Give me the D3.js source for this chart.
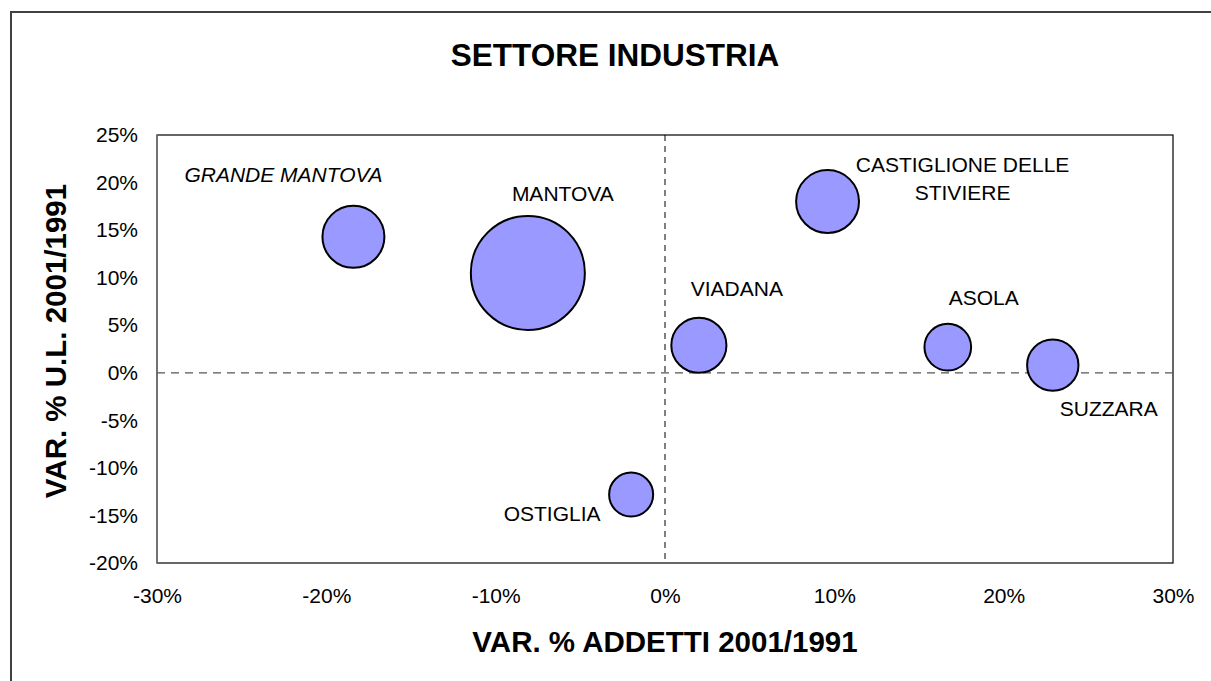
<!DOCTYPE html>
<meta charset="utf-8">
<style>
body { margin: 0; background: #fff; font-family: Arial, "Liberation Sans", Helvetica, sans-serif; }
.axis text { font-size: 21px; fill: #000; font-family: Arial, "Liberation Sans", sans-serif; }
.axis .domain { display: none; }
.bubble { fill: #9999ff; stroke: #000; stroke-width: 2; }
.label { font-size: 21px; fill: #000; text-anchor: middle; }
.zero-h { stroke: #555; stroke-width: 1.3; stroke-dasharray: 8,6; }
.zero-v { stroke: #000; stroke-width: 1; stroke-dasharray: 6,5; }
</style>
<svg width="1211" height="681"></svg>
<script src="https://cdnjs.cloudflare.com/ajax/libs/d3/7.8.5/d3.min.js"></script>
<script>

// data
var towns   = ["GRANDE MANTOVA", "MANTOVA", "VIADANA", "CASTIGLIONE DELLE STIVIERE", "ASOLA", "SUZZARA", "OSTIGLIA"];
var addetti = [-18.4, -8.1, 2.0, 9.6, 16.7, 22.9, -2.0];     // var. % addetti
var unita   = [14.3, 10.5, 2.9, 18.0, 2.7, 0.8, -12.8];      // var. % u.l.
var size    = [960, 3250, 760, 990, 545, 660, 485];           // bubble size
var xTicks  = [-30, -20, -10, 0, 10, 20, 30];
var yTicks  = [-20, -15, -10, -5, 0, 5, 10, 15, 20, 25];

// label placement (px offset from bubble centre) and line breaks
var labelLayout = [
  {dx: -70, dy: -55, lines: ["GRANDE MANTOVA"], italic: true},
  {dx: 35,  dy: -72, lines: ["MANTOVA"]},
  {dx: 38,  dy: -49, lines: ["VIADANA"]},
  {dx: 135, dy: -30, lines: ["CASTIGLIONE DELLE", "STIVIERE"]},
  {dx: 36,  dy: -42, lines: ["ASOLA"]},
  {dx: 56,  dy: 51,  lines: ["SUZZARA"]},
  {dx: -79, dy: 26,  lines: ["OSTIGLIA"]}
];

var svg = d3.select("svg"),
    margin = {top: 135, right: 38, bottom: 118, left: 157},
    width = +svg.attr("width") - margin.left - margin.right,
    height = +svg.attr("height") - margin.top - margin.bottom;

// outer chart frame (runs off the right/bottom of the picture)
svg.append("rect")
    .attr("x", 11).attr("y", 12)
    .attr("width", 1300).attr("height", 800)
    .attr("fill", "none").attr("stroke", "#404040").attr("stroke-width", 2);

var x = d3.scaleLinear().domain([-30, 30]).range([0, width]);
var y = d3.scaleLinear().domain([-20, 25]).range([height, 0]);
var r = d3.scaleSqrt().domain([0, d3.max(size)]).range([0, 57]);

var g = svg.append("g")
    .attr("transform", "translate(" + margin.left + "," + margin.top + ")");

// plot border
g.append("rect")
    .attr("width", width).attr("height", height)
    .attr("fill", "none").attr("stroke", "#000").attr("stroke-width", 1.2);
g.append("line")
    .attr("x1", 0).attr("x2", 0).attr("y1", 0).attr("y2", height)
    .attr("stroke", "#777").attr("stroke-width", 1.5);

g.append("g")
    .attr("class", "axis axis--x")
    .attr("transform", "translate(0," + height + ")")
    .call(d3.axisBottom(x).tickValues(xTicks).tickSize(0).tickPadding(25)
        .tickFormat(function(d) { return d + "%"; }));

g.append("g")
    .attr("class", "axis axis--y")
    .call(d3.axisLeft(y).tickValues(yTicks).tickSize(0).tickPadding(19)
        .tickFormat(function(d) { return d + "%"; }));

// zero lines
g.append("line").attr("class", "zero-h")
    .attr("x1", 0).attr("x2", width)
    .attr("y1", y(0)).attr("y2", y(0));
g.append("line").attr("class", "zero-v")
    .attr("x1", x(0)).attr("x2", x(0))
    .attr("y1", 0).attr("y2", height);

var pts = towns.map(function(t, i) {
  return {name: t, ax: addetti[i], ul: unita[i], s: size[i], lab: labelLayout[i]};
});

g.selectAll("circle.bubble")
    .data(pts)
    .enter().append("circle")
    .attr("class", "bubble")
    .attr("cx", function(d) { return x(d.ax); })
    .attr("cy", function(d) { return y(d.ul); })
    .attr("r", function(d) { return r(d.s); });

var labels = g.selectAll("text.label")
    .data(pts)
    .enter().append("text")
    .attr("class", "label")
    .attr("x", function(d) { return x(d.ax) + d.lab.dx; })
    .attr("y", function(d) { return y(d.ul) + d.lab.dy; })
    .style("font-style", function(d) { return d.lab.italic ? "italic" : null; });

labels.selectAll("tspan")
    .data(function(d) {
      return d.lab.lines.map(function(l, k) {
        return {text: l, x: x(d.ax) + d.lab.dx, k: k};
      });
    })
    .enter().append("tspan")
    .attr("x", function(d) { return d.x; })
    .attr("dy", function(d) { return d.k ? 28 : 0; })
    .text(function(d) { return d.text; });

// titles
svg.append("text")
    .attr("x", 615).attr("y", 66)
    .attr("text-anchor", "middle")
    .style("font-size", "31.5px").style("font-weight", "bold")
    .text("SETTORE INDUSTRIA");

svg.append("text")
    .attr("x", margin.left + x(0)).attr("y", 652)
    .attr("text-anchor", "middle")
    .style("font-size", "29.5px").style("font-weight", "bold")
    .text("VAR. % ADDETTI 2001/1991");

svg.append("text")
    .attr("transform", "translate(66,341) rotate(-90)")
    .attr("text-anchor", "middle")
    .style("font-size", "29.5px").style("font-weight", "bold")
    .text("VAR. % U.L. 2001/1991");

</script>
